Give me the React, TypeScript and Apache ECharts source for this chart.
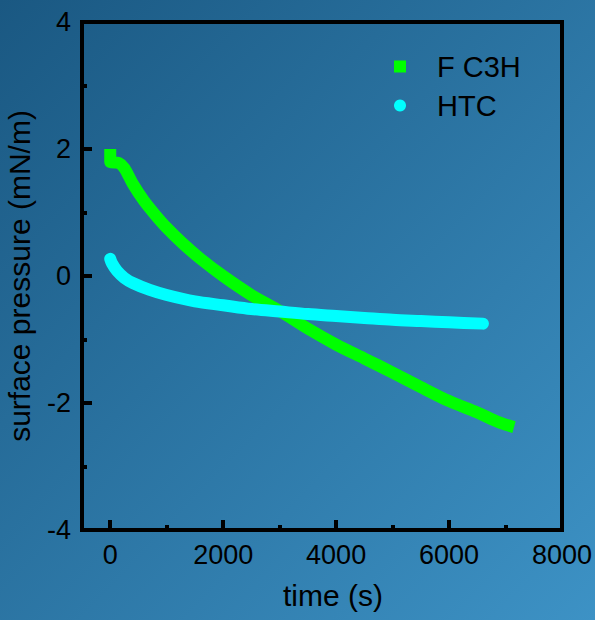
import React, { useEffect, useRef } from "react";
import * as echarts from "echarts";

const seriesNames = ["F C3H", "HTC"];
const fc3hTime = [0, 0, 150, 250, 400, 600, 800, 1000, 1300, 1600, 2000, 2500, 3000, 3500, 4000, 4500, 5000, 5500, 6000, 6500, 6900, 7150];
const fc3hPressure = [2.0, 1.8, 1.78, 1.7, 1.45, 1.18, 0.96, 0.76, 0.5, 0.27, 0.0, -0.3, -0.55, -0.83, -1.08, -1.3, -1.52, -1.75, -1.97, -2.15, -2.31, -2.38];
const htcTime = [0, 30, 120, 250, 400, 700, 1000, 1500, 2000, 2500, 3000, 3500, 4000, 4500, 5000, 5500, 6000, 6600];
const htcPressure = [0.27, 0.2, 0.08, -0.03, -0.11, -0.22, -0.3, -0.4, -0.46, -0.52, -0.56, -0.6, -0.63, -0.66, -0.69, -0.71, -0.73, -0.75];
const xLabels = [0, 2000, 4000, 6000, 8000];
const xMajorTicks = [0, 2000, 4000, 6000];
const xMinorTicks = [1000, 3000, 5000, 7000];

const FONT = "'Liberation Sans', Arial, sans-serif";

export default function App() {
  const ref = useRef<HTMLDivElement>(null);
  useEffect(() => {
    document.body.style.margin = "0";
    if (!ref.current) return;
    const chart = echarts.init(ref.current, null, { renderer: "svg" });
    const fData = fc3hTime.map((t, i) => [t, fc3hPressure[i]]);
    const hData = htcTime.map((t, i) => [t, htcPressure[i]]);
    chart.setOption({
      animation: false,
      backgroundColor: new echarts.graphic.LinearGradient(0, 0, 1, 1, [
        { offset: 0, color: "#1a5882" },
        { offset: 1, color: "#3d92c5" },
      ]),
      textStyle: { fontFamily: FONT },
      grid: {
        left: 82,
        right: 33,
        top: 22,
        bottom: 90,
        outerBoundsMode: "none",
        containLabel: false,
        show: true,
        borderColor: "#000",
        borderWidth: 4,
        backgroundColor: "transparent",
      },
      legend: {
        orient: "vertical",
        left: 389,
        top: 46,
        itemWidth: 12,
        itemHeight: 12,
        itemGap: 8,
        data: [
          { name: seriesNames[0], icon: "rect", itemStyle: { color: "#00ff00" } },
          { name: seriesNames[1], icon: "circle", itemStyle: { color: "#00ffff" } },
        ],
        textStyle: { fontSize: 29, color: "#000", fontFamily: FONT, padding: [0, 0, 0, 26], lineHeight: 31 },
      },
      xAxis: [
        {
          type: "value",
          min: -500,
          max: 8000,
          splitLine: { show: false },
          axisLine: { onZero: false, lineStyle: { color: "#000", width: 4 } },
          axisTick: { inside: true, length: 10, lineStyle: { color: "#000", width: 4 }, customValues: xMajorTicks },
          axisLabel: { customValues: xLabels, fontSize: 27, color: "#000", margin: 11, fontFamily: FONT, formatter: (v: number) => String(v) },
          name: "time (s)",
          nameLocation: "middle",
          nameGap: 50,
          nameTextStyle: { fontSize: 30, color: "#000", fontFamily: FONT, padding: [0, 0, 0, 22] },
        },
        {
          type: "value",
          min: -500,
          max: 8000,
          position: "bottom",
          splitLine: { show: false },
          axisLine: { show: false, onZero: false },
          axisTick: { inside: true, length: 5, lineStyle: { color: "#000", width: 4 }, customValues: xMinorTicks },
          axisLabel: { show: false },
        },
      ],
      yAxis: {
        type: "value",
        min: -4,
        max: 4,
        interval: 2,
        splitLine: { show: false },
        axisLine: { onZero: false, lineStyle: { color: "#000", width: 4 } },
        axisTick: { inside: true, length: 10, lineStyle: { color: "#000", width: 4 } },
        minorTick: { show: true, splitNumber: 2, length: 5, lineStyle: { color: "#000", width: 4 } },
        axisLabel: { fontSize: 27, color: "#000", margin: 11, fontFamily: FONT },
        name: "surface pressure (mN/m)",
        nameLocation: "middle",
        nameGap: 48,
        nameTextStyle: { fontSize: 30, color: "#000", fontFamily: FONT },
      },
      series: [
        {
          name: seriesNames[0],
          type: "line",
          data: fData,
          showSymbol: false,
          smooth: 0.3,
          color: "#00ff00",
          lineStyle: { color: "#00ff00", width: 12, cap: "butt", join: "round" },
        },
        {
          name: seriesNames[1],
          type: "line",
          data: hData,
          showSymbol: false,
          smooth: 0.3,
          color: "#00ffff",
          lineStyle: { color: "#00ffff", width: 12, cap: "round", join: "round" },
        },
      ],
    });
    return () => chart.dispose();
  }, []);
  return <div ref={ref} style={{ width: 595, height: 620 }} />;
}
